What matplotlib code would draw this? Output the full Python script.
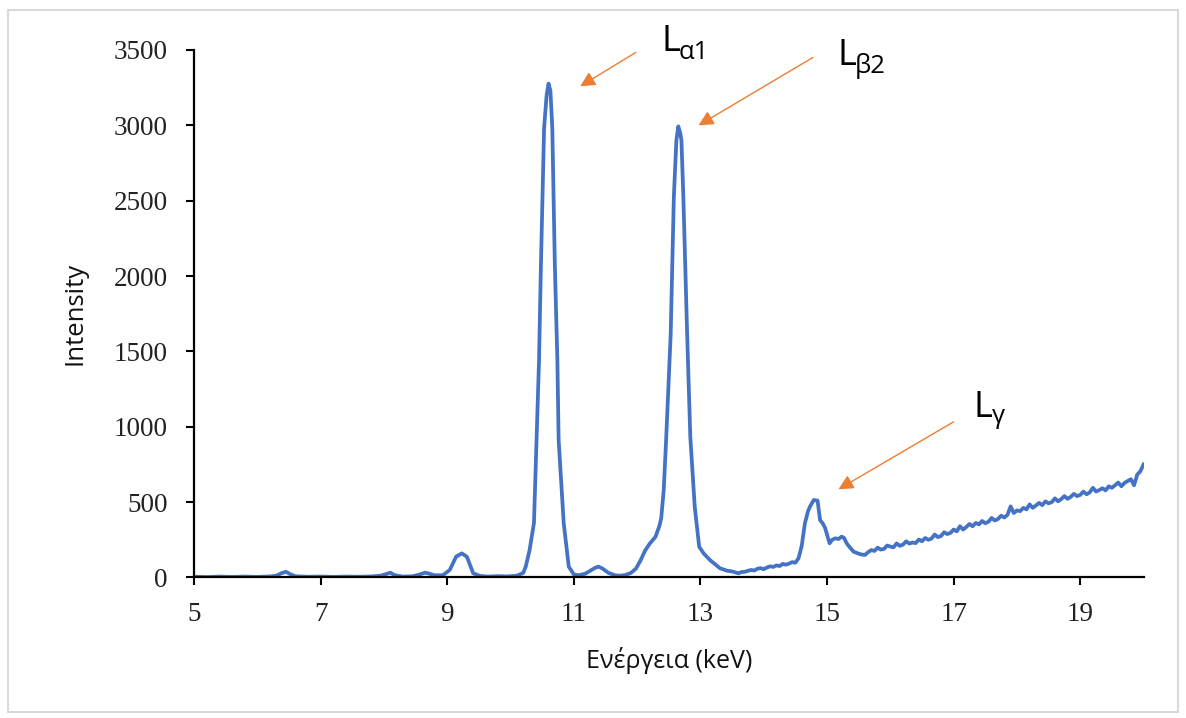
import matplotlib.pyplot as plt
from matplotlib.patches import Rectangle

# spectrum (energy in keV, counts)
energy = [5.0, 5.2, 5.4, 5.6, 5.8, 6.0, 6.2, 6.3, 6.38, 6.45, 6.52, 6.6, 6.8, 7.0, 7.2,
          7.4, 7.6, 7.8, 7.95, 8.03, 8.1, 8.17, 8.3, 8.45, 8.55, 8.65, 8.72, 8.8, 8.93,
          9.04, 9.14, 9.23, 9.31, 9.41, 9.52, 9.65, 9.8, 9.95, 10.1, 10.2, 10.24, 10.3,
          10.37, 10.41, 10.45, 10.48, 10.53, 10.57, 10.6, 10.63, 10.66, 10.7, 10.74,
          10.76, 10.84, 10.92, 11.0, 11.08, 11.18, 11.28, 11.34, 11.39, 11.45, 11.55,
          11.65, 11.72, 11.8, 11.9, 11.98, 12.05, 12.13, 12.2, 12.29, 12.35, 12.38,
          12.42, 12.46, 12.53, 12.58, 12.62, 12.65, 12.68, 12.7, 12.73, 12.79, 12.84,
          12.91, 12.98, 13.05, 13.15, 13.31, 13.42]
intensity = [5, 3, 6, 4, 6, 4, 7, 12, 28, 38, 22, 8, 5, 6, 4,
             6, 5, 7, 12, 22, 32, 15, 6, 8, 18, 32, 25, 15, 15,
             50, 138, 160, 138, 28, 10, 6, 9, 7, 12, 30, 72, 180,
             361, 912, 1440, 2072, 2980, 3200, 3277, 3230, 2980, 2072, 1440,
             912, 361, 72, 20, 15, 25, 50, 65, 72, 60, 30,
             15, 12, 15, 30, 58, 110, 182, 225, 270, 340, 392,
             580, 932, 1614, 2526, 2900, 2993, 2950, 2900, 2526, 1614, 932,
             470, 204, 160, 116, 61, 45]

# background region with the L-gamma peak
tail_energy = [13.5, 13.55, 13.6, 13.65, 13.7, 13.75, 13.8, 13.85, 13.9, 13.95, 14.0,
               14.05, 14.1, 14.15, 14.2, 14.25, 14.3, 14.35, 14.4, 14.45, 14.5, 14.55,
               14.6, 14.65, 14.7, 14.73, 14.79, 14.85, 14.89, 14.93, 14.97, 15.04, 15.08,
               15.13, 15.18, 15.23, 15.27, 15.31, 15.36, 15.42, 15.5, 15.55,
               15.6, 15.65, 15.7, 15.75, 15.8, 15.85, 15.9, 15.95, 16.0, 16.05, 16.1,
               16.15, 16.2, 16.25, 16.3, 16.35, 16.4, 16.45, 16.5, 16.55, 16.6, 16.65,
               16.7, 16.75, 16.8, 16.85, 16.9, 16.95, 17.0, 17.05, 17.1, 17.15, 17.2,
               17.25, 17.3, 17.35, 17.4, 17.45, 17.5, 17.55, 17.6, 17.65, 17.7, 17.75,
               17.8, 17.85, 17.9, 17.95, 18.0, 18.05, 18.1, 18.15, 18.2, 18.25, 18.3,
               18.35, 18.4, 18.45, 18.5, 18.55, 18.6, 18.65, 18.7, 18.75, 18.8, 18.85,
               18.9, 18.95, 19.0, 19.05, 19.1, 19.15, 19.2, 19.25, 19.3, 19.35, 19.4,
               19.45, 19.5, 19.55, 19.6, 19.65, 19.7, 19.75, 19.8, 19.85, 19.9, 19.95,
               20.0]
tail_intensity = [40, 34, 28, 36, 38, 44, 50, 46, 58, 62, 55,
                  66, 74, 70, 80, 76, 90, 85, 92, 102, 98, 128,
                  210, 359, 440, 470, 514, 510, 381, 360, 328, 227, 250,
                  260, 255, 271, 262, 227, 200, 171, 158, 152,
                  150, 168, 182, 176, 198, 185, 190, 212, 205, 200, 226,
                  210, 218, 240, 225, 232, 228, 252, 240, 262, 250, 258,
                  285, 268, 275, 300, 288, 296, 318, 306, 340, 318, 335,
                  355, 340, 362, 352, 375, 360, 370, 395, 378, 388, 410,
                  398, 415, 472, 428, 445, 440, 462, 452, 485, 462, 478,
                  495, 480, 505, 492, 500, 525, 505, 520, 540, 522, 535,
                  555, 540, 548, 570, 552, 565, 595, 570, 580, 592, 578,
                  605, 595, 612, 630, 605, 628, 640, 652, 612, 682, 705,
                  750]

# peak labels: text position, subscript, arrow tail and arrow tip (data units)
peak_main = ["L", "L", "L"]
peak_sub = ["\u03b11", "\u03b22", "\u03b3"]
label_pos = [(12.39, 3491), (15.17, 3398), (17.31, 1064)]
sub_pos = [(12.66, 3440), (15.44, 3345), (17.61, 1025)]
arrow_tail = [(11.98, 3484), (14.78, 3451), (17.0, 1033)]
arrow_tip = [(11.10, 3259), (12.97, 3000), (15.18, 585)]

fig = plt.figure(figsize=(11.86, 7.18), dpi=100)
ax = fig.add_axes([0.1636, 0.1957, 0.8006, 0.7347])

ax.plot(energy + tail_energy, intensity + tail_intensity, color="#4472C4", lw=2.7)

ax.set_xlim(5, 20)
ax.set_ylim(0, 3500)
ax.set_xticks([5, 7, 9, 11, 13, 15, 17, 19])
ax.set_yticks(range(0, 3501, 500))
for side in ["top", "right"]:
    ax.spines[side].set_visible(False)
for side in ["left", "bottom"]:
    ax.spines[side].set_linewidth(1.6)
    ax.spines[side].set_color("black")
ax.tick_params(axis="both", direction="out", length=6, width=1.5, color="black",
               labelsize=19.5, labelfontfamily="Liberation Serif", labelcolor="#222222")
ax.tick_params(axis="x", pad=12)
ax.tick_params(axis="y", pad=13)

ax.set_xlabel("Ενέργεια (keV)", fontsize=18, family=["Open Sans", "DejaVu Sans"],
              color="#111111", labelpad=14)
ax.set_ylabel("Intensity", fontsize=18.5, family=["Open Sans", "DejaVu Sans"],
              color="#111111", labelpad=19)

for main, sub, lp, sp, tail, tip in zip(peak_main, peak_sub, label_pos, sub_pos,
                                        arrow_tail, arrow_tip):
    ax.annotate("", xy=tip, xytext=tail,
                arrowprops=dict(arrowstyle="-|>,head_length=0.6,head_width=0.3",
                                color="#ED7D31", lw=1.0, mutation_scale=15,
                                shrinkA=0, shrinkB=0))
    ax.text(lp[0], lp[1], main, fontsize=26, family=["Open Sans", "DejaVu Sans"],
            ha="left", va="baseline")
    ax.text(sp[0], sp[1], sub, fontsize=18.5, family=["Open Sans", "DejaVu Sans"],
            ha="left", va="baseline")

# light frame around the whole picture
fig.patches.append(Rectangle((8 / 1186, 1 - 712 / 718), 1170 / 1186, 702 / 718,
                             transform=fig.transFigure, fill=False,
                             edgecolor="#d9d9d9", lw=1.5))

fig.savefig("out.png", dpi=100)
